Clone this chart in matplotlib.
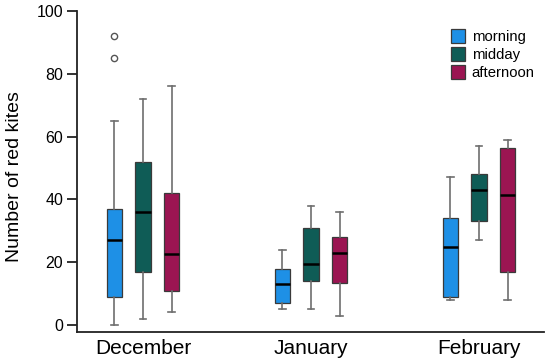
import matplotlib.pyplot as plt
from matplotlib.patches import Patch

plt.rcParams['font.family'] = ['Liberation Sans', 'DejaVu Sans']

months = ["December", "January", "February"]
periods = ["morning", "midday", "afternoon"]
colors = ["#1E90E6", "#0F5C56", "#9B1552"]

# per month, per period: (whislo, q1, med, q3, whishi)
stats_vals = {
    "December": [(0, 9, 27, 37, 65), (2, 17, 36, 52, 72), (4, 11, 22.5, 42, 76)],
    "January": [(5, 7, 13, 18, 24), (5, 14, 19.5, 31, 38), (3, 13.5, 23, 28, 36)],
    "February": [(8, 9, 25, 34, 47), (27, 33, 43, 48, 57), (8, 17, 41.5, 56.5, 59)],
}
outliers = {("December", "morning"): [85, 92]}

fig = plt.figure(figsize=(5.5, 3.64), dpi=100)
ax = fig.add_axes([0.14, 0.088, 0.849, 0.882])

offset = 0.17
width = 0.09
for i, m in enumerate(months):
    for j, p in enumerate(periods):
        lo, q1, med, q3, hi = stats_vals[m][j]
        st = dict(whislo=lo, q1=q1, med=med, q3=q3, whishi=hi,
                  fliers=outliers.get((m, p), []))
        ax.bxp([st], positions=[i + (j - 1) * offset], widths=width,
               capwidths=width * 0.45, patch_artist=True,
               boxprops=dict(facecolor=colors[j], edgecolor="#3a3a3a", linewidth=0.9),
               medianprops=dict(color="black", linewidth=1.8),
               whiskerprops=dict(color="#6e6e6e", linewidth=1.2),
               capprops=dict(color="#6e6e6e", linewidth=1.2),
               flierprops=dict(marker="o", markerfacecolor="none",
                               markeredgecolor="#555555", markersize=4.5,
                               markeredgewidth=1.0))

ax.set_xlim(-0.393, 2.387)
ax.set_ylim(-2.2, 100)
ax.set_xticks(range(len(months)))
ax.set_xticklabels(months, fontsize=15)
ax.set_yticks([0, 20, 40, 60, 80, 100])
ax.tick_params(axis="y", labelsize=11.5, length=7, width=1.3, color="#222222", pad=3)
ax.tick_params(axis="x", length=0, pad=5)
ax.set_ylabel("Number of red kites", fontsize=14)
ax.yaxis.set_label_coords(-0.116, 0.483)
for s in ["top", "right"]:
    ax.spines[s].set_visible(False)
for s in ["left", "bottom"]:
    ax.spines[s].set_linewidth(1.3)
    ax.spines[s].set_color("#222222")

handles = [Patch(facecolor=c, edgecolor="#3a3a3a", linewidth=0.9) for c in colors]
ax.legend(handles, periods, loc="upper right", bbox_to_anchor=(0.993, 0.962),
          frameon=False, fontsize=10.7, handlelength=0.95, handleheight=1.05,
          handletextpad=0.45, labelspacing=0.2, borderaxespad=0)

fig.savefig("out.png", dpi=100)
